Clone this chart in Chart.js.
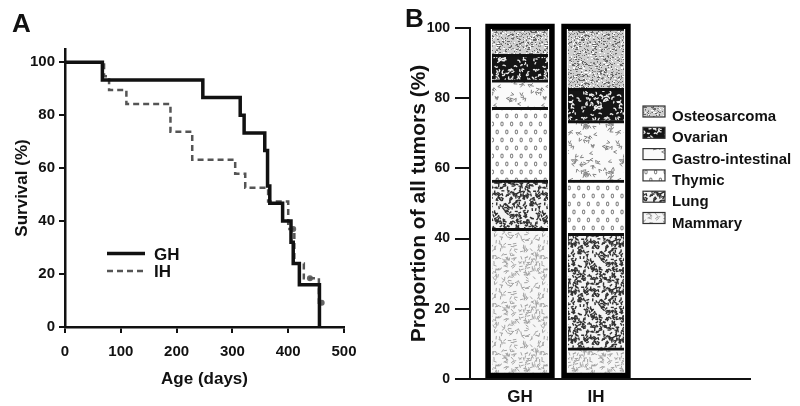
<!DOCTYPE html>
<html lang="en">
<head>
<meta charset="UTF-8" />
<title>Survival and tumor spectrum, GH vs IH</title>
<script src="https://cdn.jsdelivr.net/npm/chart.js"></script>
<style>
  body { margin: 0; background: #fff; }
  #wrap { position: relative; width: 800px; height: 406px; }
  canvas { position: absolute; top: 0; }
  #survChart { left: 0; }
  #tumorChart { left: 380px; }
</style>
</head>
<body>
<div id="wrap">
  <canvas id="survChart" width="380" height="406"></canvas>
  <canvas id="tumorChart" width="420" height="406"></canvas>
</div>
<script>
const FONT = "'Liberation Sans', Arial, sans-serif";
const INK = '#111';

// Panel A - Kaplan-Meier steps: day of event, survival (%) after it
const ghDays = [0, 67, 247, 314, 321, 358, 363, 367, 390, 405, 409, 420, 456];
const ghSurv = [100, 93.3, 86.7, 80, 73.3, 66.7, 53.3, 46.7, 40, 32, 24, 16, 0];
const ihDays = [0, 70, 79, 110, 189, 228, 305, 323, 364, 400, 411, 428, 455, 460];
const ihSurv = [100, 94.7, 89.5, 84.2, 73.7, 63.2, 57.9, 52.6, 47.4, 37, 24, 18.4, 9.2, 9.2];
const ihCensorDays = [409, 439, 460];
const ihCensorSurv = [37, 18.4, 9.2];
const survSeries = ['GH', 'IH'];

// Panel B - share of all tumors (%), stacked bottom to top
const groups = ['GH', 'IH'];
const groupX = [1, 2.52];
const tumorTypes = ['Mammary', 'Lung', 'Thymic', 'Gastro-intestinal', 'Ovarian', 'Osteosarcoma'];
const ghShare = [42.9, 13.8, 20.7, 7.8, 7.3, 7.5];
const ihShare = [8.9, 32.6, 15.2, 16.9, 9.2, 17.2];
const shareByGroup = [ghShare, ihShare];

// ---- hatch textures (deterministic, just for looks) ----
function makeRand(seed) {
  let s = seed >>> 0;
  return function () {
    s = (s * 1664525 + 1013904223) >>> 0;
    return s / 4294967296;
  };
}
function wrapped(size, x, y, fn) {
  for (const dx of [-size, 0, size]) for (const dy of [-size, 0, size]) fn(x + dx, y + dy);
}
function texture(bg, seed, painter) {
  const size = 48;
  const c = document.createElement('canvas');
  c.width = size; c.height = size;
  const g = c.getContext('2d');
  g.fillStyle = bg;
  g.fillRect(0, 0, size, size);
  painter(g, makeRand(seed), size);
  return g.createPattern(c, 'repeat');
}
function dashes(color, width, len, count) {
  return (g, rand, size) => {
    g.strokeStyle = color; g.lineWidth = width; g.lineCap = 'butt';
    for (let i = 0; i < count; i++) {
      const x = rand() * size, y = rand() * size, a = rand() * Math.PI;
      const dx = Math.cos(a) * len / 2, dy = Math.sin(a) * len / 2;
      wrapped(size, x, y, (px, py) => {
        g.beginPath(); g.moveTo(px - dx, py - dy); g.lineTo(px + dx, py + dy); g.stroke();
      });
    }
  };
}
const patterns = [
  // Mammary
  texture('#f6f6f6', 11, dashes('#a4a4a4', 1, 3.5, 170)),
  // Lung
  texture('#f4f4f4', 23, dashes('#303030', 1.4, 3, 280)),
  // Thymic
  texture('#ffffff', 5, (g, rand, size) => {
    g.strokeStyle = '#8a8a8a'; g.lineWidth = 1.1;
    for (let row = 0; row < 6; row++) {
      for (let col = 0; col < 5; col++) {
        const x = col * 9.6 + (row % 2 ? 4.8 : 0) + 2, y = row * 8 + 4;
        g.beginPath(); g.ellipse(x, y, 1.2, 1.9, 0, 0, Math.PI * 2); g.stroke();
      }
    }
  }),
  // Gastro-intestinal
  texture('#fafafa', 37, (g, rand, size) => {
    g.strokeStyle = '#858585'; g.lineWidth = 1;
    for (let i = 0; i < 60; i++) {
      const x = rand() * size, y = rand() * size, a = rand() * Math.PI * 2;
      wrapped(size, x, y, (px, py) => {
        g.beginPath();
        g.moveTo(px + Math.cos(a) * 3.5, py + Math.sin(a) * 3.5);
        g.lineTo(px, py);
        g.lineTo(px + Math.cos(a + 0.9) * 3.5, py + Math.sin(a + 0.9) * 3.5);
        g.stroke();
      });
    }
  }),
  // Ovarian
  texture('#151515', 71, (g, rand, size) => {
    g.strokeStyle = '#eeeeee'; g.lineWidth = 1.3;
    for (let i = 0; i < 120; i++) {
      const x = rand() * size, y = rand() * size, r = 1 + rand() * 1.2, a0 = rand() * Math.PI * 2;
      wrapped(size, x, y, (px, py) => {
        g.beginPath(); g.arc(px, py, r, a0, a0 + 2.2); g.stroke();
      });
    }
  }),
  // Osteosarcoma
  texture('#cfcfcf', 97, (g, rand, size) => {
    for (let i = 0; i < 650; i++) {
      const v = rand();
      g.fillStyle = v < 0.45 ? '#666666' : v < 0.8 ? '#959595' : '#ffffff';
      g.fillRect(Math.floor(rand() * size), Math.floor(rand() * size), rand() < 0.3 ? 2 : 1, 1);
    }
  })
];

// ---- Panel A ----
const survLegend = {
  id: 'survLegend',
  afterDraw(chart) {
    const ctx = chart.ctx;
    ctx.save();
    ctx.font = `bold 26px ${FONT}`;
    ctx.fillStyle = INK;
    ctx.textBaseline = 'alphabetic';
    ctx.fillText('A', 12, 32);

    ctx.font = `bold 17px ${FONT}`;
    ctx.textBaseline = 'middle';
    chart.data.datasets.slice(0, 2).forEach((ds, i) => {
      const y = 253.5 + i * 17.5;
      ctx.strokeStyle = ds.borderColor;
      ctx.lineWidth = ds.borderWidth;
      ctx.setLineDash(ds.borderDash || []);
      ctx.beginPath(); ctx.moveTo(107, y); ctx.lineTo(145, y); ctx.stroke();
      ctx.setLineDash([]);
      ctx.fillStyle = INK;
      ctx.fillText(survSeries[i], 154, y + 1.5);
    });
    ctx.restore();
  }
};

new Chart(document.getElementById('survChart'), {
  type: 'line',
  data: {
    datasets: [
      {
        label: survSeries[0],
        data: ghDays.map((d, i) => ({ x: d, y: ghSurv[i] })),
        borderColor: INK, borderWidth: 3.5, stepped: true, pointRadius: 0, fill: false, clip: false
      },
      {
        label: survSeries[1],
        data: ihDays.map((d, i) => ({ x: d, y: ihSurv[i] })),
        borderColor: '#555', borderWidth: 2.5, borderDash: [6, 4], stepped: true, pointRadius: 0, fill: false
      },
      {
        label: 'IH censored',
        data: ihCensorDays.map((d, i) => ({ x: d, y: ihCensorSurv[i] })),
        showLine: false, pointRadius: 3, pointBorderWidth: 0, pointBackgroundColor: '#666'
      }
    ]
  },
  options: {
    responsive: false,
    animation: false,
    events: [],
    layout: { padding: { top: 49, right: 36, left: 0, bottom: 0 } },
    plugins: { legend: { display: false }, tooltip: { enabled: false } },
    scales: {
      x: {
        type: 'linear', min: 0, max: 500,
        afterFit: s => { s.height = 79; },
        ticks: { stepSize: 100, padding: 10, color: INK, font: { family: FONT, size: 15, weight: 'bold' } },
        grid: { drawOnChartArea: false, drawTicks: true, tickLength: 6, color: INK, lineWidth: 2 },
        border: { color: INK, width: 2.5 },
        title: { display: true, text: 'Age (days)', color: INK, padding: { top: 0, bottom: 16 },
                 font: { family: FONT, size: 17, weight: 'bold' } }
      },
      y: {
        type: 'linear', min: 0, max: 105,
        afterFit: s => { s.width = 65; },
        ticks: { stepSize: 20, includeBounds: false, padding: 4, color: INK, font: { family: FONT, size: 15, weight: 'bold' } },
        grid: { drawOnChartArea: false, drawTicks: true, tickLength: 6, color: INK, lineWidth: 2 },
        border: { color: INK, width: 2.5 },
        title: { display: true, text: 'Survival (%)', color: INK, padding: { top: 12, bottom: 0 },
                 font: { family: FONT, size: 17, weight: 'bold' } }
      }
    }
  },
  plugins: [survLegend]
});

// ---- Panel B ----
const tumorLegend = {
  id: 'tumorLegend',
  afterDraw(chart) {
    const ctx = chart.ctx;
    ctx.save();
    ctx.font = `bold 26px ${FONT}`;
    ctx.fillStyle = INK;
    ctx.fillText('B', 25, 27);

    ctx.font = `bold 15px ${FONT}`;
    ctx.textBaseline = 'middle';
    for (let i = 0; i < tumorTypes.length; i++) {
      const k = tumorTypes.length - 1 - i;
      const y = 117 + i * 21.3;
      ctx.fillStyle = patterns[k];
      ctx.fillRect(263, y - 11, 22, 11);
      ctx.strokeStyle = '#333'; ctx.lineWidth = 1.2;
      ctx.strokeRect(263, y - 11, 22, 11);
      ctx.fillStyle = INK;
      ctx.fillText(tumorTypes[k], 292, y);
    }
    ctx.restore();
  }
};

const tumorDatasets = tumorTypes.map((name, k) => ({
  label: name,
  data: groupX.map((x, i) => ({ x: x, y: shareByGroup[i][k] })),
  backgroundColor: patterns[k],
  borderColor: INK,
  borderWidth: { top: 3, right: 0, bottom: 0, left: 0 },
  borderSkipped: false,
  barThickness: 56,
  grouped: false,
  stack: 'tumors',
  order: 1
}));
tumorDatasets.push({
  label: 'frame',
  data: groupX.map(x => ({ x: x, y: 101.2 })),
  backgroundColor: 'rgba(0,0,0,0)',
  borderColor: '#000',
  borderWidth: 5,
  borderSkipped: false,
  barThickness: 69,
  grouped: false,
  stack: 'frame',
  order: 0,
  clip: false
});

new Chart(document.getElementById('tumorChart'), {
  type: 'bar',
  data: { datasets: tumorDatasets },
  options: {
    responsive: false,
    animation: false,
    events: [],
    layout: { padding: { top: 28, right: 50, left: 0, bottom: 0 } },
    plugins: { legend: { display: false }, tooltip: { enabled: false } },
    scales: {
      x: {
        type: 'linear', min: 0, max: 5.6, offset: false,
        afterFit: s => { s.height = 27; },
        afterBuildTicks: s => { s.ticks = groupX.map(v => ({ value: v })); },
        ticks: { autoSkip: false, maxRotation: 0, padding: 8, color: INK,
                 callback: (v, i) => groups[i],
                 font: { family: FONT, size: 17, weight: 'bold' } },
        grid: { drawOnChartArea: false, drawTicks: false },
        border: { color: INK, width: 2 }
      },
      y: {
        stacked: true, min: 0, max: 100,
        afterFit: s => { s.width = 90; },
        ticks: { stepSize: 20, padding: 5, color: INK, font: { family: FONT, size: 14, weight: 'bold' } },
        grid: { drawOnChartArea: false, drawTicks: true, tickLength: 15, color: INK, lineWidth: 2 },
        border: { color: INK, width: 2 },
        title: { display: true, text: 'Proportion of all tumors (%)', color: INK, padding: { top: 27, bottom: 0 },
                 font: { family: FONT, size: 21, weight: 'bold' } }
      }
    }
  },
  plugins: [tumorLegend]
});
</script>
</body>
</html>
